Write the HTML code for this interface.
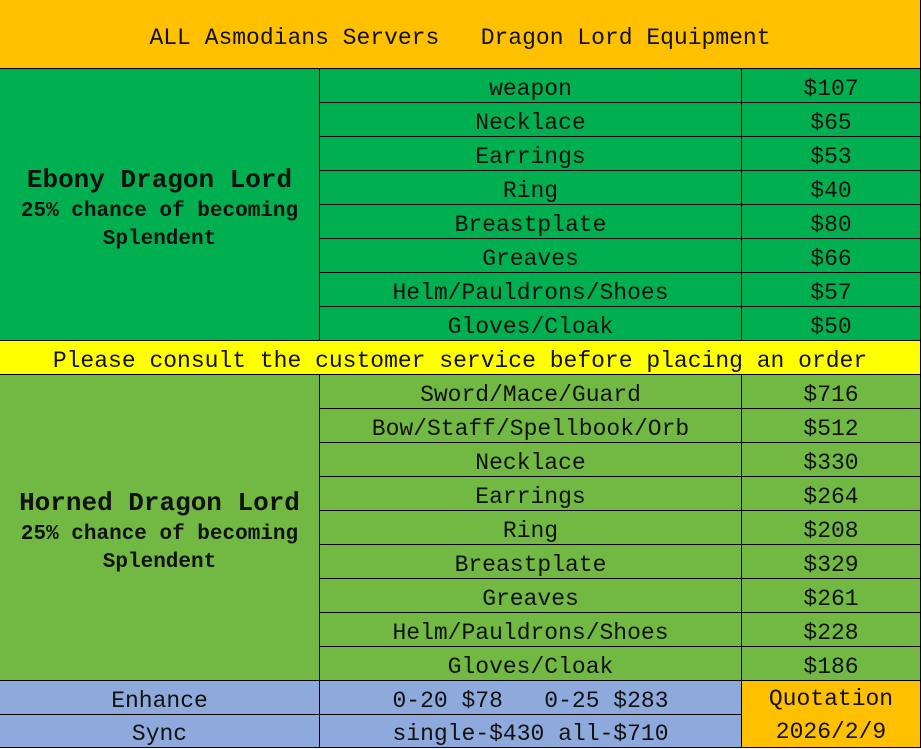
<!DOCTYPE html><html><head><style>
body{margin:0;width:921px;height:748px;overflow:hidden;background:#fff;font-family:"Liberation Mono","Noto Serif CJK SC",monospace;}
.c{position:absolute;box-sizing:border-box;text-align:center;font-size:23px;color:#111;white-space:pre;border-right:1px solid #000;border-bottom:1px solid #000;display:flex;align-items:center;justify-content:center;padding-top:6px;}
.g{background:#00B050}.l{background:#72B944}.b{background:#8EA9DB}.o{background:#FFC000}.y{background:#FFFF00}
.big{font-weight:bold;flex-direction:column;line-height:28px;padding-top:0}
</style></head><body>
<div class="c o" style="left:0;top:0;width:921px;height:69px;padding-top:8px">ALL Asmodians Servers   Dragon Lord Equipment</div>
<div class="c g big" style="left:0;top:69px;width:320px;height:272px;padding-top:18px"><div style="font-size:26px;margin-top:-8px;margin-bottom:4px">Ebony Dragon Lord</div><div style="font-size:21px;line-height:28px">25% chance of becoming<br>Splendent</div></div>
<div class="c y" style="left:0;top:341px;width:921px;height:34px">Please consult the customer service before placing an order</div>
<div class="c l big" style="left:0;top:375px;width:320px;height:306px;padding-top:10px"><div style="font-size:26px;margin-bottom:4px">Horned Dragon Lord</div><div style="font-size:21px;line-height:28px">25% chance of becoming<br>Splendent</div></div>
<div id="r"></div>
<div class="c b" style="left:0;top:681px;width:320px;height:34px">Enhance</div>
<div class="c b" style="left:0;top:715px;width:320px;height:33px">Sync</div>
<div class="c b" style="left:320px;top:681px;width:422px;height:34px">0-20 $78   0-25 $283</div>
<div class="c b" style="left:320px;top:715px;width:422px;height:33px">single-$430 all-$710</div>
<div class="c o" style="left:742px;top:681px;width:179px;height:67px;flex-direction:column;line-height:33px;padding-top:4px"><div>Quotation</div><div>2026/2/9</div></div>
<script>
var e=[["weapon","$107"],["Necklace","$65"],["Earrings","$53"],["Ring","$40"],["Breastplate","$80"],["Greaves","$66"],["Helm/Pauldrons/Shoes","$57"],["Gloves/Cloak","$50"]];
var h=[["Sword/Mace/Guard","$716"],["Bow/Staff/Spellbook/Orb","$512"],["Necklace","$330"],["Earrings","$264"],["Ring","$208"],["Breastplate","$329"],["Greaves","$261"],["Helm/Pauldrons/Shoes","$228"],["Gloves/Cloak","$186"]];
var s="";
e.forEach(function(r,i){var t=69+i*34;s+='<div class="c g" style="left:320px;top:'+t+'px;width:422px;height:34px">'+r[0]+'</div><div class="c g" style="left:742px;top:'+t+'px;width:179px;height:34px">'+r[1]+'</div>';});
h.forEach(function(r,i){var t=375+i*34;s+='<div class="c l" style="left:320px;top:'+t+'px;width:422px;height:34px">'+r[0]+'</div><div class="c l" style="left:742px;top:'+t+'px;width:179px;height:34px">'+r[1]+'</div>';});
document.getElementById("r").innerHTML=s;
</script>
</body></html>
